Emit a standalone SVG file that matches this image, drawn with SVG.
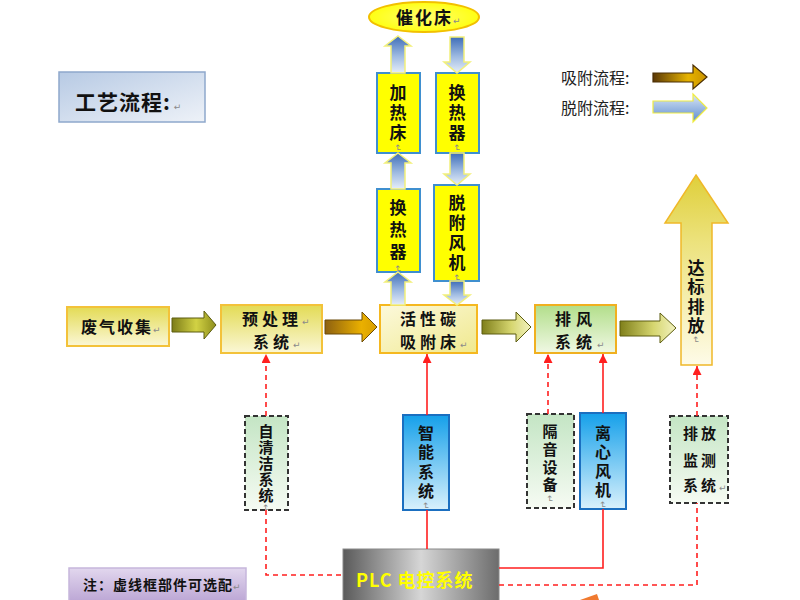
<svg xmlns="http://www.w3.org/2000/svg" width="800" height="600" viewBox="0 0 800 600">
<defs>
<style>
.t{font-family:"Noto Sans CJK SC","Noto Sans CJK JP",sans-serif;font-weight:bold;fill:#111}
.v{writing-mode:vertical-rl}
.lg{font-family:"Noto Sans CJK SC","Noto Sans CJK JP",sans-serif;font-size:16px;fill:#222}
.rm{font-family:"DejaVu Sans",sans-serif;font-size:9px;font-weight:normal;fill:#8a8a8a;letter-spacing:0}
.ybox{fill:#ffff00;stroke:#3f8fcf;stroke-width:2}
.barrow{fill:url(#gBlueV);stroke:#f2f07a;stroke-width:1.5}
.dbox{fill:url(#gDash);stroke:#333;stroke-width:2;stroke-dasharray:5,3}
.bbox{fill:url(#gBlueBox);stroke:#1b6fc0;stroke-width:2}
.red{stroke:#ff1f1f;stroke-width:1.6;fill:none}
.dash{stroke-dasharray:5,4}
</style>
<linearGradient id="gBlueV" x1="0" y1="0" x2="0" y2="1"><stop offset="0" stop-color="#3e6db8"/><stop offset="0.55" stop-color="#9fbbe2"/><stop offset="1" stop-color="#e6eef9"/></linearGradient>
<linearGradient id="gBlueL" x1="0" y1="0" x2="0" y2="1"><stop offset="0" stop-color="#dbe7f6"/><stop offset="1" stop-color="#5d8cd0"/></linearGradient>
<linearGradient id="gBrown" x1="0" y1="0" x2="1" y2="0"><stop offset="0" stop-color="#5a3806"/><stop offset="0.65" stop-color="#e6b300"/><stop offset="1" stop-color="#c99200"/></linearGradient>
<linearGradient id="gGold" x1="0" y1="0" x2="1" y2="0"><stop offset="0" stop-color="#8d6010"/><stop offset="0.7" stop-color="#eab000"/><stop offset="1" stop-color="#d89e00"/></linearGradient>
<linearGradient id="gOlive1" x1="0" y1="0" x2="1" y2="0"><stop offset="0" stop-color="#7c7c18"/><stop offset="0.55" stop-color="#d2d244"/><stop offset="1" stop-color="#8e8e1c"/></linearGradient>
<linearGradient id="gOlive2" x1="0" y1="0" x2="1" y2="0"><stop offset="0" stop-color="#7f7f1a"/><stop offset="0.6" stop-color="#d6d670"/><stop offset="1" stop-color="#f2f2c0"/></linearGradient>
<linearGradient id="gYel" x1="0" y1="0" x2="0" y2="1"><stop offset="0" stop-color="#e3db55"/><stop offset="1" stop-color="#fbf7d6"/></linearGradient>
<linearGradient id="gPale" x1="0" y1="0" x2="1" y2="1"><stop offset="0" stop-color="#fcf9dc"/><stop offset="1" stop-color="#f0e98e"/></linearGradient>
<linearGradient id="gGreen" x1="0" y1="0" x2="0" y2="1"><stop offset="0" stop-color="#b2de8a"/><stop offset="1" stop-color="#f0f8e4"/></linearGradient>
<linearGradient id="gUp" x1="0" y1="0" x2="0" y2="1"><stop offset="0" stop-color="#dfcf3a"/><stop offset="0.35" stop-color="#ece27c"/><stop offset="1" stop-color="#fefbe8"/></linearGradient>
<linearGradient id="gDash" x1="0" y1="0" x2="0" y2="1"><stop offset="0" stop-color="#c4e5c4"/><stop offset="1" stop-color="#f6fbf3"/></linearGradient>
<linearGradient id="gBlueBox" x1="0" y1="0" x2="0" y2="1"><stop offset="0" stop-color="#15a0ea"/><stop offset="1" stop-color="#d9f1fc"/></linearGradient>
<linearGradient id="gPLC" x1="0" y1="0" x2="1" y2="0"><stop offset="0" stop-color="#5a5a5a"/><stop offset="0.5" stop-color="#d6d6d6"/><stop offset="1" stop-color="#6c6c6c"/></linearGradient>
<linearGradient id="gNote" x1="0" y1="0" x2="0" y2="1"><stop offset="0" stop-color="#e2d7ee"/><stop offset="1" stop-color="#b9a3d3"/></linearGradient>
<linearGradient id="gTitle" x1="0" y1="0" x2="1" y2="1"><stop offset="0" stop-color="#b7cae4"/><stop offset="1" stop-color="#eef2f8"/></linearGradient>
<radialGradient id="gEll" cx="0.5" cy="0.5" r="0.6"><stop offset="0" stop-color="#ffff70"/><stop offset="1" stop-color="#ffff00"/></radialGradient>
<marker id="ah" viewBox="0 0 10 10" refX="10" refY="5" markerWidth="9" markerHeight="9" markerUnits="userSpaceOnUse" orient="auto"><path d="M0,0 L10,5 L0,10 Z" fill="#ff1f1f"/></marker>
</defs>
<rect width="800" height="600" fill="#ffffff"/>

<g id="title">
<rect x="59" y="72" width="146" height="50" fill="url(#gTitle)" stroke="#8ea8cc" stroke-width="1.5"/>
<text class="t" x="75" y="110" font-size="21" letter-spacing="1">工艺流程:<tspan class="rm" dx="3">↵</tspan></text>
</g>

<g id="legend">
<text class="lg" x="561" y="84">吸附流程:</text>
<path d="M653,73 L693,73 L693,65 L707,77 L693,89 L693,82 L653,82 Z" fill="url(#gBrown)" stroke="#4a2e04" stroke-width="1.2"/>
<text class="lg" x="561" y="114">脱附流程:</text>
<path d="M653,101 L693,101 L693,94 L707,108 L693,122 L693,113 L653,113 Z" fill="url(#gBlueL)" stroke="#f0ec40" stroke-width="1.2"/>
</g>

<g id="catalyst">
<ellipse cx="424" cy="17" rx="55" ry="15" fill="url(#gEll)" stroke="#f2c000" stroke-width="2"/>
<text class="t" x="396" y="24" font-size="17" letter-spacing="2">催化床<tspan class="rm">↵</tspan></text>
</g>

<g id="heater">
<rect class="ybox" x="377" y="73" width="43" height="80"/>
<text class="t v" x="398" y="84" font-size="17" letter-spacing="3">加热床<tspan class="rm">↵</tspan></text>
</g>

<g id="hx1">
<rect class="ybox" x="436" y="73" width="43" height="80"/>
<text class="t v" x="457" y="84" font-size="17" letter-spacing="3">换热器<tspan class="rm">↵</tspan></text>
</g>

<g id="hx2">
<rect class="ybox" x="377" y="189" width="43" height="83"/>
<text class="t v" x="398" y="199" font-size="17" letter-spacing="5">换热器<tspan class="rm">↵</tspan></text>
</g>

<g id="desorbfan">
<rect class="ybox" x="434" y="185" width="45" height="96"/>
<text class="t v" x="457" y="194" font-size="17" letter-spacing="3">脱附风机<tspan class="rm">↵</tspan></text>
</g>

<g id="collect">
<rect x="67" y="307" width="102" height="39" fill="url(#gYel)" stroke="#f3c23a" stroke-width="2"/>
<text class="t" x="81" y="333" font-size="16" letter-spacing="2">废气收集<tspan class="rm">↵</tspan></text>
</g>

<g id="pretreat">
<rect x="221" y="305" width="101" height="48" fill="url(#gYel)" stroke="#f3c23a" stroke-width="2"/>
<text class="t" font-size="16" letter-spacing="4"><tspan x="242" y="324.5">预处理</tspan><tspan class="rm">↵</tspan><tspan x="253" y="348">系统</tspan><tspan class="rm">↵</tspan></text>
</g>

<g id="adsorber">
<rect x="380" y="305" width="97" height="48" fill="url(#gPale)" stroke="#f5b820" stroke-width="2"/>
<text class="t" font-size="16" letter-spacing="4"><tspan x="400" y="324.5">活性碳</tspan><tspan x="400" y="348">吸附床</tspan><tspan class="rm">↵</tspan></text>
</g>

<g id="exhaust">
<rect x="535" y="305" width="81" height="48" fill="url(#gGreen)" stroke="#f0b020" stroke-width="2"/>
<text class="t" font-size="16" letter-spacing="5"><tspan x="555" y="324.5">排风</tspan><tspan x="555" y="348">系统</tspan><tspan class="rm">↵</tspan></text>
</g>

<g id="discharge">
<path d="M696,175 L728,223 L712,223 L712,365 L681,365 L681,223 L665,223 Z" fill="url(#gUp)" stroke="#f0b828" stroke-width="1.5"/>
<text class="t v" x="696" y="259" font-size="17" letter-spacing="2.3">达标排放<tspan class="rm">↵</tspan></text>
</g>

<g id="selfclean">
<rect class="dbox" x="245" y="416" width="43" height="94"/>
<text class="t v" x="266" y="424" font-size="15" letter-spacing="1">自清洁系统<tspan class="rm">↵</tspan></text>
</g>

<g id="smart">
<rect class="bbox" x="403" y="415" width="46" height="95"/>
<text class="t v" x="426" y="425" font-size="16" letter-spacing="3.3">智能系统<tspan class="rm">↵</tspan></text>
</g>

<g id="silencer">
<rect class="dbox" x="527" y="414" width="47" height="94"/>
<text class="t v" x="550" y="424" font-size="15" letter-spacing="2.7">隔音设备<tspan class="rm">↵</tspan></text>
</g>

<g id="cfan">
<rect class="bbox" x="580" y="413" width="46" height="96"/>
<text class="t v" x="603" y="425" font-size="16" letter-spacing="3">离心风机<tspan class="rm">↵</tspan></text>
</g>

<g id="monitor">
<rect class="dbox" x="670" y="416" width="58" height="87"/>
<text class="t" font-size="15" letter-spacing="3"><tspan x="683" y="439">排放</tspan><tspan x="683" y="466">监测</tspan><tspan x="683" y="491">系统</tspan><tspan class="rm">↵</tspan></text>
</g>

<g id="plc">
<rect x="343" y="549" width="156" height="60" fill="url(#gPLC)" stroke="#8a8a8a" stroke-width="1"/>
<text class="t" x="356" y="587" font-size="18" style="fill:#ffff00" letter-spacing="1">PLC 电控系统<tspan class="rm">↵</tspan></text>
</g>

<g id="note">
<rect x="69" y="568" width="177" height="36" fill="url(#gNote)" stroke="#c6b6dc" stroke-width="1.5"/>
<text class="t" x="83" y="590" font-size="14" letter-spacing="1">注：虚线框部件可选配<tspan class="rm">↵</tspan></text>
</g>

<g id="flows">
<path d="M172,318 L204,318 L204,311 L216,325 L204,339 L204,332 L172,332 Z" fill="url(#gOlive1)" stroke="#5c5c10" stroke-width="1"/>
<path d="M325,320 L362,320 L362,312 L377,327 L362,342 L362,334 L325,334 Z" fill="url(#gGold)" stroke="#6a4a08" stroke-width="1"/>
<path d="M482,320 L516,320 L516,312 L531,327 L516,342 L516,334 L482,334 Z" fill="url(#gOlive2)" stroke="#5c5c10" stroke-width="1"/>
<path d="M620,321 L660,321 L660,313 L676,328 L660,343 L660,336 L620,336 Z" fill="url(#gOlive2)" stroke="#5c5c10" stroke-width="1"/>
<path class="barrow" d="M398,36 L411,46 L405,46 L405,73 L391,73 L391,46 L385,46 Z"/>
<path class="barrow" d="M398,153 L411,163 L405,163 L405,189 L391,189 L391,163 L385,163 Z"/>
<path class="barrow" d="M398,272 L411,282 L405,282 L405,305 L391,305 L391,282 L385,282 Z"/>
<path class="barrow" d="M450,37 L464,37 L464,62 L470,62 L457,73 L444,62 L450,62 Z"/>
<path class="barrow" d="M450,153 L464,153 L464,174 L470,174 L457,185 L444,174 L450,174 Z"/>
<path class="barrow" d="M450,281 L464,281 L464,295 L470,295 L457,305 L444,295 L450,295 Z"/>
</g>

<g id="connectors">
<path class="red dash" d="M266,416 L266,354" marker-end="url(#ah)"/>
<path class="red dash" d="M266,510 L266,575 L343,575"/>
<path class="red" d="M427,415 L427,354" marker-end="url(#ah)"/>
<path class="red" d="M427,549 L427,510"/>
<path class="red dash" d="M548,414 L548,354" marker-end="url(#ah)"/>
<path class="red" d="M603,413 L603,354" marker-end="url(#ah)"/>
<path class="red" d="M603,509 L603,568 L499,568"/>
<path class="red dash" d="M499,585 L697,585 L697,503"/>
<path class="red dash" d="M697,416 L697,366" marker-end="url(#ah)"/>
</g>
<path d="M580,600 L597,594 L599,600 Z" fill="#f07a30"/>
</svg>
